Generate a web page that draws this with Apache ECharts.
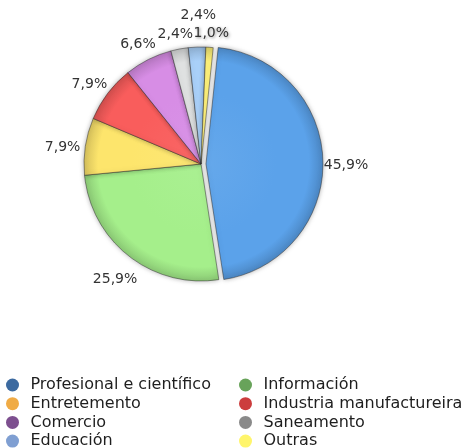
<!DOCTYPE html>
<html>
<head>
<meta charset="utf-8">
<script src="https://cdn.jsdelivr.net/npm/echarts@6/dist/echarts.min.js"></script>
<style>html,body{margin:0;padding:0;background:#fff}#c{width:469px;height:448px}</style>
</head>
<body>
<div id="c"></div>
<script>
const categories = ['Profesional e científico','Información','Entretemento','Industria manufactureira','Comercio','Saneamento','Educación','Outras'];
const values = [45.9, 25.9, 7.9, 7.9, 6.6, 2.4, 2.4, 1.0];
const sliceColors = ['#5ba2ea','#a5ef8b','#fde56c','#f95d5c','#d78de5','#dfe1e1','#a9d0f9','#fff27a'];
const legendColors = ['#3c6aa0','#68a35a','#f0ab45','#cc3d3d','#7d4f8f','#8a8a8a','#7f9fd2','#fff56b'];
const leftLegend = ['Profesional e científico','Entretemento','Comercio','Educación'];
const rightLegend = ['Información','Industria manufactureira','Saneamento','Outras'];
// small nudges of individual value labels (to mimic the reference's overlap handling)
const labelNudges = [null, null, null, null, null, [0,3], [2,-14], [0,4]];

const font = 'DejaVu Sans';
const PIE_CENTER = [201,164], PIE_R = 117;
const fmt = p => p.value.toFixed(1).replace('.', ',') + '%';
const mix = (c, t, k) => echarts.color.lerp(k, [c, t]);
const shade = c => ({
  type:'radial', x:PIE_CENTER[0], y:PIE_CENTER[1], r:PIE_R, global:true,
  colorStops:[
    {offset:0, color:mix(c, '#ffffff', 0.06)},
    {offset:0.6, color:c},
    {offset:0.88, color:c},
    {offset:1, color:mix(c, '#000000', 0.16)}
  ]
});
const legendItem = name => ({name, itemStyle:{color: legendColors[categories.indexOf(name)], borderWidth:0, shadowBlur:0}});
const legendBase = {
  orient:'vertical', top:377, height:100, padding:0, itemWidth:26, itemHeight:13, itemGap:2.7, icon:'circle',
  selectedMode:false,
  textStyle:{fontFamily:font, fontSize:16, color:'#1e1e1e', padding:0}
};

const chart = echarts.init(document.getElementById('c'), null, {renderer:'canvas'});
chart.setOption({
  animation:false,
  legend:[
    Object.assign({}, legendBase, {left:6, data:leftLegend.map(legendItem)}),
    Object.assign({}, legendBase, {left:239, data:rightLegend.map(legendItem)})
  ],
  series:[{
    type:'pie',
    center:PIE_CENTER,
    radius:PIE_R,
    startAngle:84,
    clockwise:true,
    selectedMode:'single',
    selectedOffset:5,
    itemStyle:{borderColor:'rgba(40,40,40,0.6)', borderWidth:0.8, shadowBlur:5, shadowColor:'rgba(0,0,0,0.3)'},
    label:{show:false},
    labelLine:{show:false},
    emphasis:{disabled:true},
    data: categories.map((n,i)=>({
      name:n, value:values[i], selected: i===0,
      itemStyle:{color:shade(sliceColors[i])}
    }))
  },{
    // transparent twin used only to place the value labels just outside the pie
    type:'pie',
    center:[201,169],
    radius:[0,274],
    startAngle:84,
    clockwise:true,
    silent:true,
    z:5,
    selectedMode:'single',
    selectedOffset:5,
    itemStyle:{color:'rgba(0,0,0,0)', borderWidth:0, shadowBlur:0},
    label:{show:true, position:'inside', formatter:fmt, fontFamily:font, fontSize:14, color:'#333', align:'center', verticalAlign:'middle'},
    labelLine:{show:false},
    emphasis:{disabled:true},
    data: categories.map((n,i)=>({
      name:n, value:values[i], selected: i===0,
      label: Object.assign(labelNudges[i] ? {offset:labelNudges[i]} : {},
             i===7 ? {textShadowColor:'rgba(0,0,0,0.45)', textShadowBlur:3, textShadowOffsetX:1, textShadowOffsetY:1} : {})
    }))
  }]
});
</script>
</body>
</html>
